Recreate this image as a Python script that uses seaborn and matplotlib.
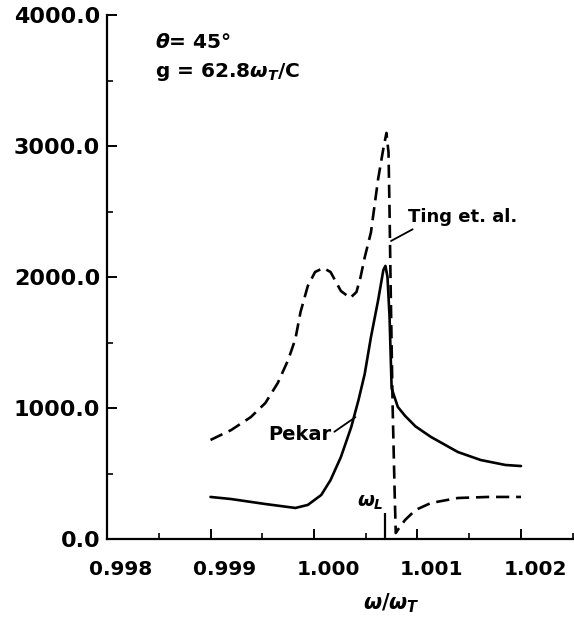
import numpy as np
import pandas as pd
import matplotlib
matplotlib.use("Agg")
import matplotlib.pyplot as plt
import matplotlib.transforms as mtransforms
from matplotlib.ticker import MultipleLocator, FormatStrFormatter
import seaborn as sns

# ---- data ----
ting_x = [0.99900, 0.99920, 0.99939, 0.99953, 0.99965, 0.99975, 0.99982, 0.99987,
          0.99994, 1.00001, 1.00009, 1.00016, 1.00026, 1.00035, 1.00041, 1.00045,
          1.00049, 1.00055, 1.00062, 1.00067, 1.00070, 1.00072, 1.00073, 1.00074,
          1.00076, 1.00078, 1.00079, 1.00081, 1.00088, 1.00098, 1.00113, 1.00139,
          1.00168, 1.00200]
ting_y = [756, 832, 931, 1038, 1191, 1366, 1527, 1733,
          1931, 2038, 2069, 2038, 1893, 1840, 1885, 2000,
          2150, 2340, 2750, 2980, 3100, 2950, 2500, 1950,
          1000, 330, 46, 70, 145, 221, 275, 313,
          321, 321]

pekar_x = [0.99900, 0.99920, 0.99953, 0.99982, 0.99994, 1.00007, 1.00016, 1.00026,
           1.00036, 1.00043, 1.00049, 1.00055, 1.00062, 1.00067, 1.00069, 1.00071,
           1.00073, 1.00075, 1.00081, 1.00088, 1.00098, 1.00113, 1.00139, 1.00161,
           1.00185, 1.00200]
pekar_y = [321, 305, 267, 237, 260, 336, 450, 626,
           855, 1061, 1260, 1540, 1824, 2053, 2085, 2000,
           1695, 1150, 1008, 940, 860, 779, 664, 603,
           565, 557]

x_ticks = [0.998, 0.999, 1.000, 1.001, 1.002]
y_ticks = [0.0, 1000.0, 2000.0, 3000.0, 4000.0]
omega_L = 1.00069

# ---- figure ----
sns.set_style("ticks")
plt.rcParams['font.family'] = ['DejaVu Sans']
plt.rcParams['mathtext.fontset'] = 'custom'
plt.rcParams['mathtext.rm'] = 'DejaVu Sans:bold'
plt.rcParams['mathtext.it'] = 'DejaVu Sans:bold:italic'
plt.rcParams['mathtext.bf'] = 'DejaVu Sans:bold'
for k in ['text.color', 'axes.labelcolor', 'xtick.color', 'ytick.color',
          'axes.edgecolor']:
    plt.rcParams[k] = 'black'

fig = plt.figure(figsize=(5.74, 6.23), dpi=100)
ax = fig.add_axes([107/574, 1 - 539/623, 467/574, 524/623])

ting = pd.DataFrame({"x": ting_x, "y": ting_y})
pekar = pd.DataFrame({"x": pekar_x, "y": pekar_y})

sns.lineplot(data=ting, x="x", y="y", ax=ax, sort=False, estimator=None,
             color="black", lw=1.9, linestyle=(0, (5, 2.6)))
sns.lineplot(data=pekar, x="x", y="y", ax=ax, sort=False, estimator=None,
             color="black", lw=1.9)

ax.set_xlim(0.998, 0.998 + 467 / 103.5 * 0.001)
ax.set_ylim(0, 4000)
ax.set_xticks(x_ticks)
ax.set_yticks(y_ticks)
ax.xaxis.set_minor_locator(MultipleLocator(0.0005))
ax.yaxis.set_minor_locator(MultipleLocator(500))
ax.xaxis.set_major_formatter(FormatStrFormatter('%.3f'))
ax.yaxis.set_major_formatter(FormatStrFormatter('%.1f'))

for s in ["top", "right"]:
    ax.spines[s].set_visible(False)
for s in ["left", "bottom"]:
    ax.spines[s].set_linewidth(1.6)
    ax.spines[s].set_color("black")

ax.tick_params(axis='both', which='major', direction='in', length=7, width=1.4,
               color='black')
ax.tick_params(axis='both', which='minor', direction='in', length=4, width=1.2,
               color='black')
ax.tick_params(axis='x', which='major', pad=15, labelsize=14.5)
ax.tick_params(axis='y', which='major', pad=5, labelsize=16)
shift = mtransforms.ScaledTranslation(14 / 100, 0, fig.dpi_scale_trans)
for lab in ax.get_xticklabels():
    lab.set_fontweight('bold')
    lab.set_transform(lab.get_transform() + shift)
for lab in ax.get_yticklabels():
    lab.set_fontweight('bold')

ax.set_xlabel(r"$\omega/\omega_T$", fontsize=15)
ax.xaxis.set_label_coords((391 - 107) / 467, (539 - 603) / 524)
ax.xaxis.label.set_va('center')
ax.set_ylabel("")

# omega_L marker
ax.vlines(omega_L, 0, 200, color="black", lw=1.6)
ax.text(omega_L - 0.00002, 275, r"$\omega_L$", ha='right', va='center', fontsize=14)

# annotations
ax.text(0.103, 0.947, r"$\theta$= 45°", transform=ax.transAxes, fontsize=14.5,
        fontweight='bold', va='center', ha='left')
ax.text(0.103, 0.891, r"g = 62.8$\omega_T$/C", transform=ax.transAxes, fontsize=14.5,
        fontweight='bold', va='center', ha='left')

ax.annotate("Pekar", xy=(1.00040, 930), xytext=(0.99986, 794), textcoords='data',
            ha='center', va='center', fontsize=14, fontweight='bold',
            arrowprops=dict(arrowstyle='-', color='black', lw=1.3,
                            relpos=(1.0, 0.55), shrinkA=0, shrinkB=0))
ax.annotate("Ting et. al.", xy=(1.000744, 2275), xytext=(1.001435, 2458),
            textcoords='data', ha='center', va='center', fontsize=13,
            fontweight='bold',
            arrowprops=dict(arrowstyle='-', color='black', lw=1.3,
                            relpos=(0.13, 0.1), shrinkA=0, shrinkB=0))

fig.savefig("out.png", dpi=100, facecolor='white')
